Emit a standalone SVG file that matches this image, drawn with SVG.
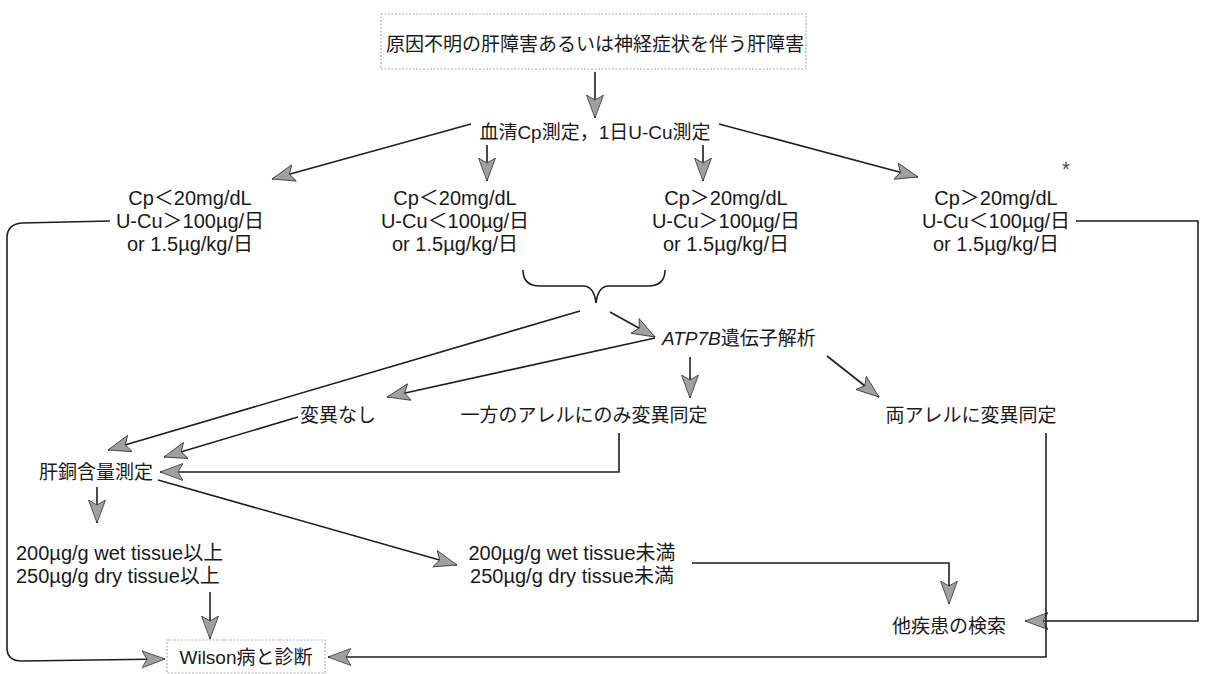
<svg xmlns="http://www.w3.org/2000/svg" width="1205" height="674" viewBox="0 0 1205 674">
<style>
.t{font-family:"Liberation Sans","Noto Sans CJK JP",sans-serif;font-size:19px;fill:#1a1a1a;text-anchor:middle}
.l{font-size:20px}
.s{text-anchor:start}
.c{fill:none;stroke:#1e1e1e;stroke-width:1.6}
.a{marker-end:url(#ah)}
.box{fill:#fff;stroke:#b0b0b0;stroke-width:1.2;stroke-dasharray:2 1.5}
</style>
<defs>
<marker id="ah" markerWidth="25" markerHeight="19" refX="23" refY="8.5" orient="auto" markerUnits="userSpaceOnUse" viewBox="0 0 25 17">
<path d="M0,0 L23,8.5 L0,17 L5,8.5 Z" fill="#a0a0a0" stroke="#333" stroke-width="0.8"/>
</marker>
</defs>
<rect width="1205" height="674" fill="#fff"/>

<g id="connectors">
<line class="c a" x1="595" y1="72" x2="595" y2="118"/>
<line class="c a" x1="471" y1="124" x2="272" y2="179"/>
<line class="c a" x1="719" y1="124" x2="918" y2="177"/>
<line class="c a" x1="487" y1="145" x2="487" y2="181"/>
<line class="c a" x1="703" y1="145" x2="703" y2="181"/>
<path class="c a" d="M110,221 L22,223 Q7,224 7,238 L7,648 Q7,661 22,661 L165,659"/>
<path class="c a" d="M1076,221 L1198,221 L1198,621 L1025,621"/>
<path class="c" d="M523,270 Q523,286 540,286 L583,286 Q594,286 596,303 Q598,286 609,286 L648,286 Q665,286 665,270"/>
<line class="c a" x1="580" y1="311" x2="108" y2="450"/>
<line class="c a" x1="610" y1="312" x2="655" y2="337"/>
<line class="c a" x1="655" y1="338" x2="387" y2="397"/>
<line class="c a" x1="690" y1="357" x2="690" y2="398"/>
<line class="c a" x1="827" y1="356" x2="879" y2="397"/>
<line class="c a" x1="298" y1="417" x2="164" y2="457"/>
<path class="c a" d="M619,433 L619,472 L160,472"/>
<path class="c a" d="M1046,433 L1046,657 L328,657"/>
<line class="c a" x1="97" y1="487" x2="97" y2="523"/>
<line class="c a" x1="158" y1="480" x2="457" y2="565"/>
<path class="c a" d="M692,563 L949,563 L949,604"/>
<line class="c a" x1="210" y1="592" x2="210" y2="639"/>
</g>

<g id="n-start">
<rect class="box" x="381" y="14" width="425" height="55"/>
<text class="t" x="595" y="50.5">原因不明の肝障害あるいは神経症状を伴う肝障害</text>
</g>
<g id="n-measure">
<text class="t" x="595" y="138.5">血清Cp測定，1日U-Cu測定</text>
</g>
<g id="n-cond1">
<text class="t l" x="190" y="205">Cp＜20mg/dL</text>
<text class="t l" x="190" y="228">U-Cu＞100µg/日</text>
<text class="t l" x="190" y="251">or 1.5µg/kg/日</text>
</g>
<g id="n-cond2">
<text class="t l" x="455" y="205">Cp＜20mg/dL</text>
<text class="t l" x="455" y="228">U-Cu＜100µg/日</text>
<text class="t l" x="455" y="251">or 1.5µg/kg/日</text>
</g>
<g id="n-cond3">
<text class="t l" x="726" y="205">Cp＞20mg/dL</text>
<text class="t l" x="726" y="228">U-Cu＞100µg/日</text>
<text class="t l" x="726" y="251">or 1.5µg/kg/日</text>
</g>
<g id="n-cond4">
<text class="t l" x="996" y="205">Cp＞20mg/dL</text>
<text class="t l" x="996" y="228">U-Cu＜100µg/日</text>
<text class="t l" x="996" y="251">or 1.5µg/kg/日</text>
<text class="t" x="1066" y="176" style="font-size:20px;fill:#444">*</text>
</g>
<g id="n-atp7b">
<text class="t s" x="662" y="344.5"><tspan font-style="italic">ATP7B</tspan>遺伝子解析</text>
</g>
<g id="n-nomut">
<text class="t" x="338" y="422">変異なし</text>
</g>
<g id="n-onemut">
<text class="t" x="584" y="422">一方のアレルにのみ変異同定</text>
</g>
<g id="n-bothmut">
<text class="t" x="971" y="422">両アレルに変異同定</text>
</g>
<g id="n-livercu">
<text class="t" x="96" y="478.5">肝銅含量測定</text>
</g>
<g id="n-high">
<text class="t l s" x="16" y="560">200µg/g wet tissue以上</text>
<text class="t l s" x="16" y="583">250µg/g dry tissue以上</text>
</g>
<g id="n-low">
<text class="t l" x="572" y="560">200µg/g wet tissue未満</text>
<text class="t l" x="572" y="583">250µg/g dry tissue未満</text>
</g>
<g id="n-other">
<text class="t" x="949" y="633">他疾患の検索</text>
</g>
<g id="n-wilson">
<rect class="box" x="167" y="640" width="158" height="33"/>
<text class="t" x="246" y="663.5">Wilson病と診断</text>
</g>
</svg>
